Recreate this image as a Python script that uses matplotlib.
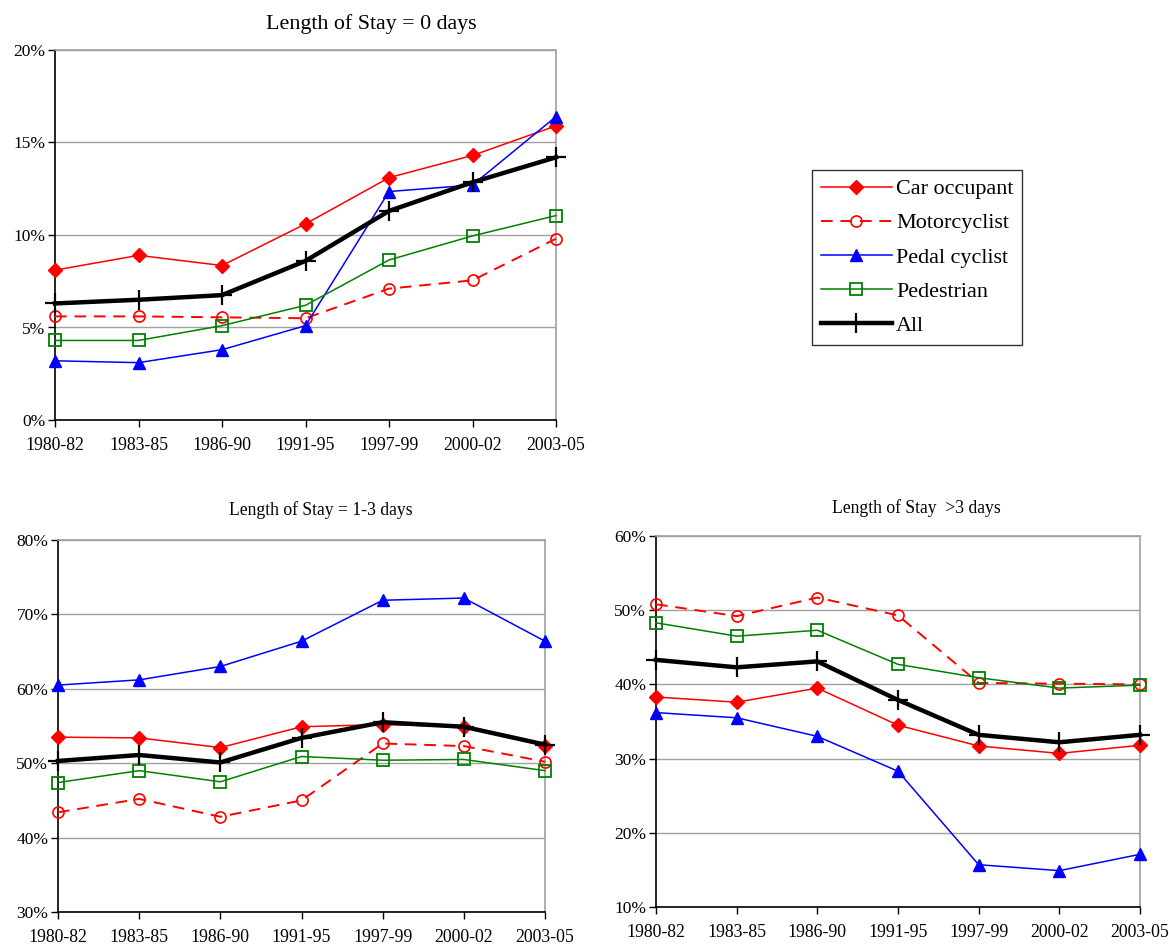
import matplotlib
matplotlib.use("Agg")
import matplotlib.pyplot as plt
from matplotlib.ticker import FuncFormatter


periodos = ["1980-82", "1983-85", "1986-90", "1991-95", "1997-99", "2000-02", "2003-05"]
series = ["Car occupant", "Motorcyclist", "Pedal cyclist", "Pedestrian", "All"]

# porcentaje de ingresos por duración de estancia
estancia_0 = {
    "Car occupant": [8.1, 8.9, 8.35, 10.6, 13.1, 14.3, 15.9],
    "Motorcyclist": [5.6, 5.6, 5.55, 5.5, 7.1, 7.55, 9.8],
    "Pedal cyclist": [3.2, 3.1, 3.8, 5.1, 12.35, 12.7, 16.4],
    "Pedestrian": [4.3, 4.3, 5.1, 6.2, 8.65, 9.95, 11.05],
    "All": [6.3, 6.5, 6.75, 8.6, 11.3, 12.85, 14.2],
}
estancia_1_3 = {
    "Car occupant": [53.5, 53.4, 52.1, 54.9, 55.2, 54.9, 52.3],
    "Motorcyclist": [43.4, 45.2, 42.8, 45.0, 52.65, 52.3, 50.2],
    "Pedal cyclist": [60.5, 61.2, 63.0, 66.4, 71.9, 72.2, 66.4],
    "Pedestrian": [47.4, 49.0, 47.5, 50.9, 50.4, 50.5, 49.0],
    "All": [50.3, 51.1, 50.1, 53.4, 55.5, 54.9, 52.5],
}
estancia_mas_3 = {
    "Car occupant": [38.3, 37.6, 39.5, 34.5, 31.7, 30.7, 31.8],
    "Motorcyclist": [50.8, 49.2, 51.7, 49.3, 40.2, 40.1, 40.0],
    "Pedal cyclist": [36.2, 35.5, 33.0, 28.3, 15.7, 14.9, 17.1],
    "Pedestrian": [48.3, 46.5, 47.3, 42.7, 40.9, 39.5, 39.9],
    "All": [43.3, 42.3, 43.1, 37.9, 33.2, 32.2, 33.2],
}

ESTILOS = {
    "Car occupant": dict(color="#FF0000", ls="-", lw=1.1, marker="D", ms=7, mfc="#FF0000", mec="#FF0000"),
    "Motorcyclist": dict(color="#FF0000", ls=(0, (6, 4)), lw=1.4, marker="o", ms=8, mfc="none", mec="#FF0000", mew=1.2),
    "Pedal cyclist": dict(color="#0000FF", ls="-", lw=1.1, marker="^", ms=9, mfc="#0000FF", mec="#0000FF"),
    "Pedestrian": dict(color="#008000", ls="-", lw=1.1, marker="s", ms=8, mfc="none", mec="#008000", mew=1.3),
    "All": dict(color="black", ls="-", lw=3.2, marker="+", ms=14, mec="black", mew=1.6),
}

plt.rcParams["font.family"] = ["Liberation Serif", "DejaVu Serif"]


def pos(px_izq, px_arr, px_der, px_abj):
    w, h = 1169.0, 946.0
    return [px_izq / w, 1 - px_abj / h, (px_der - px_izq) / w, (px_abj - px_arr) / h]


def dibujar(ax, datos, ymin, ymax, paso):
    x = list(range(len(periodos)))
    for nombre in series:
        ax.plot(x, datos[nombre], label=nombre, clip_on=False, zorder=3, **ESTILOS[nombre])
    ax.set_xlim(0, len(periodos) - 1)
    ax.set_ylim(ymin, ymax)
    ax.set_xticks(x)
    ax.set_xticklabels(periodos, fontsize=12.8)
    ax.set_yticks(list(range(ymin, ymax + 1, paso)))
    ax.yaxis.set_major_formatter(FuncFormatter(lambda v, p: f"{v:.0f}%"))
    ax.tick_params(axis="y", labelsize=12.5, length=5, width=1, pad=2)
    ax.tick_params(axis="x", length=5, width=1, pad=7)
    ax.grid(axis="y", color="#A0A0A0", lw=1)
    ax.set_axisbelow(True)
    for lado in ["top", "right"]:
        ax.spines[lado].set_color("#A0A0A0")
        ax.spines[lado].set_linewidth(1.2)
    for lado in ["left", "bottom"]:
        ax.spines[lado].set_color("black")
        ax.spines[lado].set_linewidth(1.2)


def main():
    fig = plt.figure(figsize=(11.69, 9.46), dpi=100)

    ax0 = fig.add_axes(pos(55, 50, 556, 420))
    dibujar(ax0, estancia_0, 0, 20, 5)
    fig.text(371 / 1169, 1 - 24 / 946, "Length of Stay = 0 days", ha="center", va="center", fontsize=15.8)

    ax1 = fig.add_axes(pos(58, 540, 545, 912))
    dibujar(ax1, estancia_1_3, 30, 80, 10)
    fig.text(321 / 1169, 1 - 510 / 946, "Length of Stay = 1-3 days", ha="center", va="center", fontsize=12.7)

    ax2 = fig.add_axes(pos(656, 536, 1140, 907))
    dibujar(ax2, estancia_mas_3, 10, 60, 10)
    fig.text(916 / 1169, 1 - 508 / 946, "Length of Stay  >3 days", ha="center", va="center", fontsize=12.7)

    handles, labels = ax0.get_legend_handles_labels()
    leg = fig.legend(
        handles, labels,
        loc="upper left",
        bbox_to_anchor=(812 / 1169, 1 - 170 / 946),
        fontsize=15.9,
        frameon=True,
        fancybox=False,
        handlelength=3.2,
        handletextpad=0.2,
        labelspacing=0.62,
        borderpad=0.4,
        borderaxespad=0,
    )
    leg.get_frame().set_edgecolor("black")
    leg.get_frame().set_linewidth(1.0)

    fig.savefig("out.png", dpi=100)
    plt.close(fig)


if __name__ == "__main__":
    main()
